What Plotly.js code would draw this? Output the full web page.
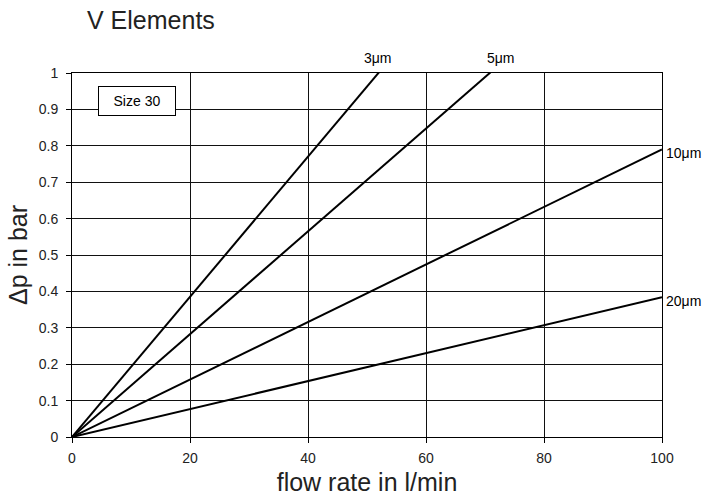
<!DOCTYPE html>
<html>
<head>
<meta charset="utf-8">
<script src="https://cdn.plot.ly/plotly-3.0.1.min.js"></script>
<style>html,body{margin:0;padding:0;background:#fff;}#chart{width:725px;height:499px;}</style>
</head>
<body>
<div id="chart"></div>
<script>
// Data
const seriesNames = ["3μm", "5μm", "10μm", "20μm"];
const flowStart = [0, 0, 0, 0];
const flowEnd = [52.3, 71.3, 100, 100];
const dpStart = [0, 0, 0, 0];
const dpEnd = [1.007, 1.007, 0.790, 0.384];
const xTicks = [0, 20, 40, 60, 80, 100];
const yTicks = [0, 0.1, 0.2, 0.3, 0.4, 0.5, 0.6, 0.7, 0.8, 0.9, 1];

const FONT = "Liberation Sans, Arial, sans-serif";
const yMax = yTicks[yTicks.length - 1];

const traces = seriesNames.map((n, i) => ({
  type: "scatter", mode: "lines", name: n,
  x: [flowStart[i], flowEnd[i]], y: [dpStart[i], dpEnd[i]],
  line: {color: "#000", width: 2}, showlegend: false, hoverinfo: "skip"
}));

// label placement styles (annotations must stay inside the axis range to be drawn)
const labelStyle = [
  {xanchor: "center", yanchor: "bottom", xshift: -3, yshift: 5},
  {xanchor: "center", yanchor: "bottom", xshift: 8, yshift: 5},
  {xanchor: "left", yanchor: "middle", xshift: 2, yshift: -4},
  {xanchor: "left", yanchor: "middle", xshift: 2, yshift: -4}
];
const annotations = seriesNames.map((n, i) => Object.assign({
  x: flowEnd[i], y: Math.min(dpEnd[i], yMax), xref: "x", yref: "y", text: n, showarrow: false,
  font: {family: FONT, size: 14, color: "#000"}
}, labelStyle[i]));
annotations.push({
  xref: "paper", yref: "paper", x: 0.110, y: 0.923, xanchor: "center", yanchor: "middle",
  text: "Size 30", showarrow: false, bordercolor: "#000", borderwidth: 1,
  borderpad: 6, bgcolor: "#fff", width: 64,
  font: {family: FONT, size: 14, color: "#000"}
});

const layout = {
  width: 725, height: 499,
  margin: {l: 72, r: 63, t: 73, b: 62},
  paper_bgcolor: "#fff", plot_bgcolor: "#fff",
  font: {family: FONT, color: "#222"},
  title: {text: "V Elements", x: 87/725, xref: "container", xanchor: "left",
    y: 1 - 20/499, yref: "container", yanchor: "middle",
    font: {family: FONT, size: 25, color: "#222"}},
  xaxis: {
    range: [0, 100], tickvals: xTicks, ticks: "outside", ticklen: 5, tickcolor: "#000",
    ticklabelstandoff: 3,
    showgrid: true, gridcolor: "#111", gridwidth: 1, zeroline: false,
    showline: true, mirror: true, linecolor: "#000", linewidth: 1,
    tickfont: {family: FONT, size: 14, color: "#222"},
    title: {text: "flow rate in l/min", font: {family: FONT, size: 25, color: "#222"}, standoff: 8},
    automargin: false, fixedrange: true
  },
  yaxis: {
    range: [0, yMax], tickvals: yTicks, ticks: "outside", ticklen: 5, tickcolor: "#000",
    ticklabelstandoff: 5,
    showgrid: true, gridcolor: "#111", gridwidth: 1, zeroline: false,
    showline: true, mirror: true, linecolor: "#000", linewidth: 1,
    tickfont: {family: FONT, size: 14, color: "#222"},
    title: {text: "Δp in bar", font: {family: FONT, size: 25, color: "#222"}, standoff: 3},
    automargin: false, fixedrange: true
  },
  annotations: annotations
};

Plotly.newPlot("chart", traces, layout, {displayModeBar: false, staticPlot: true});
</script>
</body>
</html>
